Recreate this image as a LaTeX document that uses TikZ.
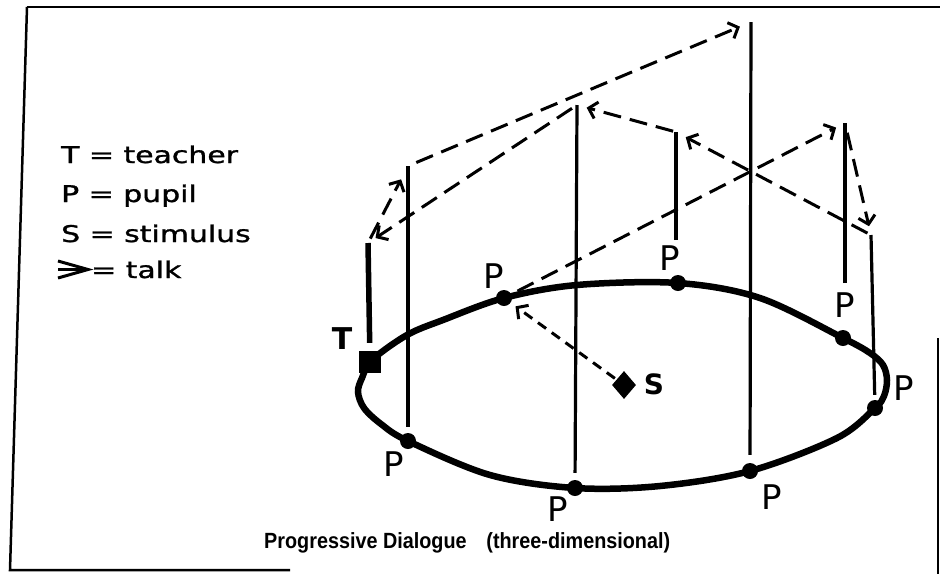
\documentclass[tikz,border=0pt]{standalone}
\usepackage{fontspec}
\setmainfont{DejaVu Sans}
\newfontfamily\handfont{DejaVu Sans}
\newfontfamily\legfont[FakeBold=1.2]{DejaVu Sans}
\newfontfamily\capfont{Liberation Sans}
\usetikzlibrary{arrows.meta,shapes.geometric}
\newcommand\lgtxt[1]{\scalebox{1.3}[1]{\legfont\fontsize{23}{23}\selectfont #1}}
\tikzset{
  frameline/.style={line width=2.5pt},
  ring/.style={line width=6.5pt},
  pupil/.style={circle, fill=black, inner sep=0pt, minimum size=16pt},
  teacher/.style={rectangle, fill=black, inner sep=0pt, minimum size=22pt},
  stim/.style={diamond, fill=black, inner sep=0pt, minimum width=24pt, minimum height=28pt},
  pole/.style={line width=3.2pt},
  tpole/.style={line width=5.5pt},
  talk/.style={line width=3pt, dash pattern=on 18pt off 9pt, -{Straight Barb[length=8pt,width=17pt]}},
  plabel/.style={font=\handfont\fontsize{34}{34}\selectfont, inner sep=0pt},
  boldlabel/.style={font=\handfont\bfseries\fontsize{30}{30}\selectfont, inner sep=0pt},
}
\begin{document}
\begin{tikzpicture}[x=1pt,y=-1pt]
\useasboundingbox (0,0) rectangle (940,574);
% frame
\draw[frameline] (27,7) -- (940,7);
\draw[frameline] (27,7) -- (10,570) -- (290,570);
\draw[frameline] (938,338) -- (938,574);
% ring
\draw[ring] plot[smooth cycle, tension=0.55] coordinates {
 (372,360) (362,378) (358,392) (364,408) (381,424) (408,441) (490,475)
 (575,488) (660,486) (750,471) (837,438) (875,408) (884,396) (887,380)
 (883,365) (870,353) (843,338) (760,298) (678,283) (577,285) (504,298)
 (443,320) (407,335)};
% people
\node[teacher] (T) at (370,362) {};
\node[pupil] (p1) at (408,441) {};
\node[pupil] (p2) at (575,488) {};
\node[pupil] (p7) at (750,471) {};
\node[pupil] (p6) at (875,408) {};
\node[pupil] (p5) at (843,338) {};
\node[pupil] (p4) at (678,283) {};
\node[pupil] (p3) at (504,298) {};
\node[stim] (S) at (624,385) {};
% pole tops and free ends
\coordinate (t1) at (368,243);
\coordinate (t2) at (408,166);
\coordinate (t3) at (577,105);
\coordinate (t4) at (751,22);
\coordinate (t5) at (676,132);
\coordinate (t6) at (845,123);
\coordinate (t7) at (871,235);
\coordinate (b5) at (676,240);
\coordinate (b6) at (845,283);
% poles
\draw[tpole, shorten <=8pt] (T) -- (t1);
\draw[pole, shorten <=6pt] (p1) -- (t2);
\draw[pole, shorten <=7pt] (p2) -- (t3);
\draw[pole, shorten <=8pt] (p7) -- (t4);
\draw[pole, shorten <=5pt] (p6) -- (t7);
\draw[pole] (b5) -- (t5);
\draw[pole] (b6) -- (t6);
% talk
\draw[talk, shorten <=5pt, shorten >=15pt] (t1) -- (t2);
\draw[talk, shorten <=6pt, shorten >=9pt] (t3) -- (t1);
\draw[talk, shorten <=9pt, shorten >=12pt] (t2) -- (t4);
\draw[talk, shorten <=3pt, shorten >=10pt] (t5) -- (t3);
\draw[talk, shorten <=4pt, shorten >=11pt] (t7) -- (t5);
\draw[talk, shorten <=7pt, shorten >=10pt] (p3) -- (t6);
\draw[talk, shorten <=10pt, shorten >=9pt] (t6) -- (t7);
\draw[talk, dash pattern=on 10pt off 7pt, shorten <=2pt, shorten >=6pt] (S) -- (p3);
% labels
\node[boldlabel] (lT) at (342,339) {T};
\node[boldlabel, font=\handfont\bfseries\fontsize{28}{28}\selectfont] (lS) at (654,384) {S};
\node[plabel] (l1) at (394,464) {P};
\node[plabel] (l2) at (558,509) {P};
\node[plabel] (l3) at (494,276) {P};
\node[plabel] (l4) at (670,258) {P};
\node[plabel] (l5) at (845,305) {P};
\node[plabel] (l6) at (904,388) {P};
\node[plabel] (l7) at (772,497) {P};
% legend
\node[anchor=base west, inner sep=0pt] (g1) at (61,163) {\lgtxt{T = teacher}};
\node[anchor=base west, inner sep=0pt] (g2) at (61,202) {\lgtxt{P = pupil}};
\node[anchor=base west, inner sep=0pt] (g3) at (61,242) {\lgtxt{S = stimulus}};
\draw[line width=3pt] (58,261) -- (88,269.5) -- (58,278);
\draw[line width=3pt] (58,269.5) -- (85,269.5);
\node[anchor=base west, inner sep=0pt] (g4) at (91,278) {\lgtxt{= talk}};
% caption
\node[anchor=base west, inner sep=0pt] (cap) at (264,548) {\scalebox{0.9}[1]{\capfont\bfseries\fontsize{22}{22}\selectfont Progressive Dialogue\hspace{1em}(three-dimensional)}};
\end{tikzpicture}
\end{document}
